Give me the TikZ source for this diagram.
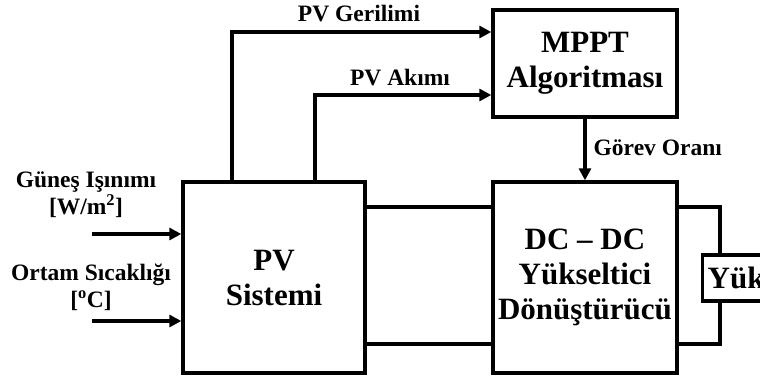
\documentclass[tikz,border=0pt]{standalone}
\usepackage{fontspec}
\setmainfont{Liberation Serif}
\usetikzlibrary{arrows.meta,positioning}

\begin{document}
\begin{tikzpicture}[x=1pt,y=-1pt,line width=3.4pt,
  box/.style={draw, font=\fontsize{31}{35}\selectfont\bfseries, align=center, inner sep=0pt},
  lbl/.style={font=\fontsize{23.5}{27}\selectfont\bfseries, align=center, inner sep=0pt},
  arr/.style={-{Triangle[length=12pt,width=12pt]}}]
  \useasboundingbox (0,0) rectangle (760,378);
  \clip (0,0) rectangle (760,378);
  % blocks
  \node[box, minimum width=182, minimum height=191] (pv) at (274,277.5) {PV\\Sistemi};
  \node[box, minimum width=184, minimum height=107] (mppt) at (585,63.5) {MPPT\\Algoritması};
  \node[box, minimum width=184, minimum height=191] (dc) at (585,277.5) {DC -- DC\\Yükseltici\\Dönüştürücü};
  \node[box, anchor=west, minimum height=46, text width=80, inner xsep=5pt, align=left] (yuk) at (701,278) {Yük};
  % helper coordinates
  \coordinate (wt) at (0,207);
  \coordinate (wb) at (0,344);
  \coordinate (lx) at (720,0);
  \coordinate (gv) at (232,32);
  \coordinate (ia) at (315,95);
  \coordinate (in1) at (92,234);
  \coordinate (in2) at (92,321);
  % power wires
  \draw (pv.east |- wt) -- (dc.west |- wt);
  \draw (pv.east |- wb) -- (dc.west |- wb);
  \draw (dc.east |- wt) -| (lx |- yuk.north);
  \draw (lx |- yuk.south) |- (dc.east |- wb);
  % measurements and control
  \draw[arr] (gv |- pv.north) |- (mppt.west |- gv);
  \draw[arr] (ia |- pv.north) |- (mppt.west |- ia);
  \draw[arr] (mppt.south) -- (dc.north);
  \draw[arr] (in1) -- (pv.west |- in1);
  \draw[arr] (in2) -- (pv.west |- in2);
  % labels
  \node[lbl] (lgv) at (359,14) {PV Gerilimi};
  \node[lbl] (lia) at (400,78) {PV Akımı};
  \node[lbl, anchor=west] (lgo) at (592,148) {Görev Oranı};
  \node[lbl] (lsun) at (86,195) {Güneş Işınımı\\{}[W/m\textsuperscript{2}]};
  \node[lbl] (ltmp) at (91,287) {Ortam Sıcaklığı\\{}[\textsuperscript{o}C]};
\end{tikzpicture}
\end{document}
